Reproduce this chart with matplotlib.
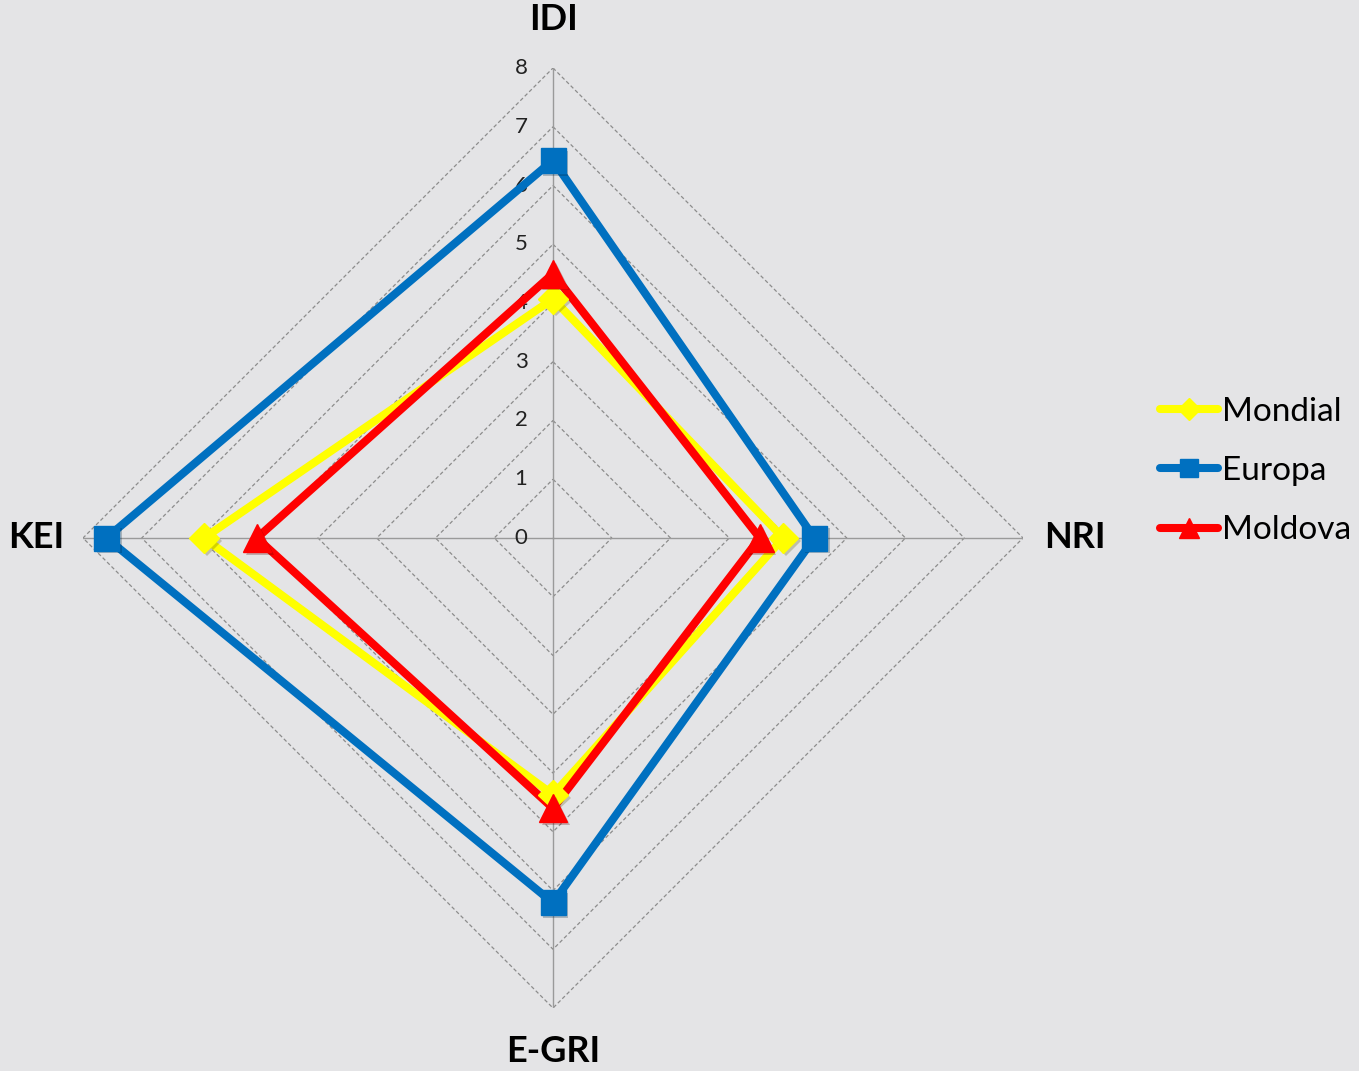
import numpy as np
import matplotlib.pyplot as plt
import matplotlib.patheffects as pe
from matplotlib.lines import Line2D

# axe (sens orar, incepand de sus)
categories = ["IDI", "NRI", "E-GRI", "KEI"]
mondial = [4.07, 3.92, 4.37, 5.94]
europa = [6.43, 4.45, 6.21, 7.60]
moldova = [4.50, 3.52, 4.60, 5.04]
rings = [1, 2, 3, 4, 5, 6, 7, 8]

bg = "#E4E4E6"
plt.rcParams['font.family'] = ['Lato', 'DejaVu Sans']

fig = plt.figure(figsize=(13.59, 10.71), dpi=100, facecolor=bg)
ax = fig.add_axes([83/1359, 63/1071, 940/1359, 940/1071], projection='polar')
ax.set_facecolor(bg)
ax.set_theta_offset(np.pi/2)
ax.set_theta_direction(-1)
ax.set_ylim(0, 8)
ax.grid(False)
ax.set_xticks([])
ax.set_yticks([])
ax.spines['polar'].set_visible(False)

theta = np.linspace(0, 2*np.pi, len(categories), endpoint=False)
th_closed = np.append(theta, theta[0])

# inele punctate (romburi)
for r in rings:
    ax.plot(th_closed, [r]*len(th_closed), color="#8C8C8C", lw=0.9,
            ls=(0, (3, 2)), zorder=1)
# spite
for t in theta:
    ax.plot([t, t], [0, 8], color="#9A9A9A", lw=1.0, zorder=1)

# etichete valori
for r in [0] + rings:
    ax.annotate(str(r), xy=(0, r), xytext=(-32, 0), textcoords='offset pixels',
                ha='center', va='center', fontsize=16, color="#222222")

shadow = [pe.SimplePatchShadow(offset=(2, -2), alpha=0.25), pe.Normal()]

def draw(vals, color, marker, ms, label):
    v = np.append(vals, vals[0])
    ax.plot(th_closed, v, color=color, lw=5.8, zorder=3, solid_joinstyle='miter',
            label=label)
    ax.plot(theta, vals, ls='none', marker=marker, ms=ms, color=color, zorder=4,
            path_effects=shadow)

draw(mondial, "#FFFF00", "D", 15, "Mondial")
draw(europa, "#0070C0", "s", 18, "Europa")
draw(moldova, "#FF0000", "^", 20, "Moldova")

# etichete axe
lab = dict(fontsize=26, fontweight='bold', va='center')
fig.text(553/1359, 1 - 20/1071, "IDI", ha='center', **lab)
fig.text(1044/1359, 1 - 538/1071, "NRI", ha='left', **lab)
fig.text(64/1359, 1 - 538/1071, "KEI", ha='right', **lab)
fig.text(553/1359, 1 - 1052/1071, "E-GRI", ha='center', **lab)

# legenda
handles = [
    Line2D([], [], color="#FFFF00", lw=5.8, marker="D", ms=11, solid_capstyle='round'),
    Line2D([], [], color="#0070C0", lw=5.8, marker="s", ms=13, solid_capstyle='round'),
    Line2D([], [], color="#FF0000", lw=5.8, marker="^", ms=14, solid_capstyle='round'),
]
leg = fig.legend(handles, ["Mondial", "Europa", "Moldova"], loc='center left',
                 bbox_to_anchor=(1160/1359, 1 - 471/1071), frameon=False,
                 fontsize=24, handlelength=1.75, handletextpad=0.1,
                 labelspacing=0.88, borderaxespad=0, borderpad=0)

fig.savefig("out.png", dpi=100, facecolor=bg)
